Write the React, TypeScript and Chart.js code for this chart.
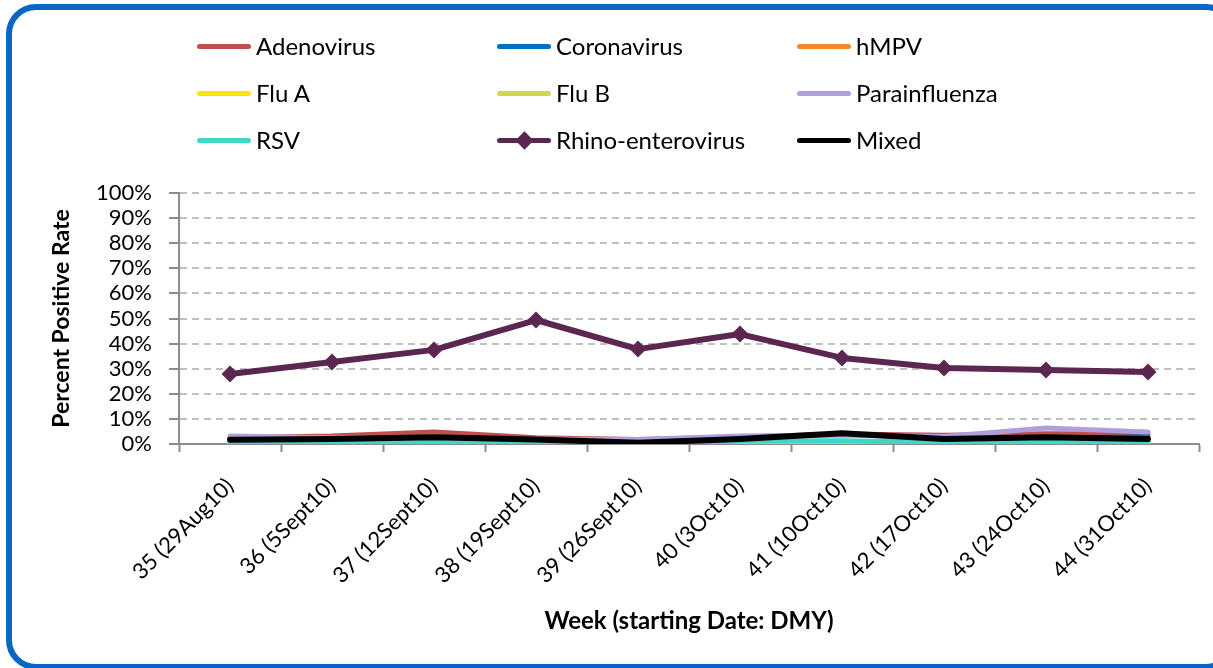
import React, { useEffect, useRef } from "react";
import { Chart, registerables } from "chart.js";

Chart.register(...registerables);

const weeks = [
  "35 (29Aug10)",
  "36 (5Sept10)",
  "37 (12Sept10)",
  "38 (19Sept10)",
  "39 (26Sept10)",
  "40 (3Oct10)",
  "41 (10Oct10)",
  "42 (17Oct10)",
  "43 (24Oct10)",
  "44 (31Oct10)",
];

const adenovirus = [2.5, 3.2, 4.8, 2.5, 1.8, 2.8, 4.0, 3.5, 4.1, 4.0];
const coronavirus = [0, 0, 0, 0, 0, 0, 0, 0, 2.0, 3.0];
const hmpv = [0.3, 0.3, 0.5, 0.5, 0, 0.5, 0.5, 0, 0.5, 1.0];
const fluA = [0, 0, 0, 0, 0, 0, 0, 0, 0, 0];
const fluB = [0, 0, 0, 0, 0, 0, 0, 0, 0, 0];
const parainfluenza = [3.2, 2.5, 2.0, 2.0, 1.8, 3.2, 3.5, 3.0, 6.4, 4.8];
const rsv = [0.2, 0.3, 0.8, 0.5, 0.3, 1.2, 1.3, 0.6, 0.6, 1.0];
const rhinoEnterovirus = [27.9, 32.7, 37.5, 49.4, 37.8, 43.8, 34.3, 30.3, 29.5, 28.7];
const mixed = [1.7, 2.0, 2.7, 1.8, 0.5, 2.0, 4.3, 2.0, 2.7, 2.0];

const seriesNames = [
  "Adenovirus",
  "Coronavirus",
  "hMPV",
  "Flu A",
  "Flu B",
  "Parainfluenza",
  "RSV",
  "Rhino-enterovirus",
  "Mixed",
];
const seriesValues = [adenovirus, coronavirus, hmpv, fluA, fluB, parainfluenza, rsv, rhinoEnterovirus, mixed];
const seriesColors = [
  "#c0504d",
  "#0070c0",
  "#f5882d",
  "#ffe500",
  "#d2d84c",
  "#b09fdc",
  "#3ed6c4",
  "#5b2751",
  "#000000",
];

const FONT = "Lato, 'Open Sans', sans-serif";

export default function App() {
  const canvasRef = useRef<HTMLCanvasElement | null>(null);

  useEffect(() => {
    document.body.style.margin = "0";
    const canvas = canvasRef.current;
    if (!canvas) return;
    const n = seriesNames.length;
    const datasets = seriesNames.map((name, i) => {
      const isRhino = name === "Rhino-enterovirus";
      const thick = isRhino || name === "Mixed";
      return {
        label: name,
        data: seriesValues[i],
        borderColor: seriesColors[i],
        backgroundColor: seriesColors[i],
        borderWidth: thick ? 6 : 5,
        borderCapStyle: "round" as const,
        borderJoinStyle: "round" as const,
        tension: 0,
        fill: false,
        pointStyle: "rectRot" as const,
        pointRadius: isRhino ? 8.5 : 0,
        pointHoverRadius: isRhino ? 8.5 : 0,
        pointBorderWidth: 0,
        order: n - i,
      };
    });

    const chart = new Chart(canvas, {
      type: "line",
      data: { labels: weeks, datasets },
      options: {
        animation: false,
        responsive: false,
        maintainAspectRatio: false,
        layout: { padding: { top: 193, left: 0, right: 14, bottom: 0 } },
        plugins: {
          legend: { display: false },
          tooltip: { enabled: false },
          title: { display: false },
        },
        scales: {
          x: {
            type: "category",
            offset: true,
            afterFit: (scale: any) => {
              scale.height = 224;
            },
            grid: {
              display: true,
              offset: true,
              drawOnChartArea: false,
              drawTicks: true,
              tickLength: 8,
              tickColor: "#8c8c8c",
              tickWidth: 2,
            },
            border: { display: true, color: "#8c8c8c", width: 2 },
            ticks: {
              autoSkip: false,
              maxRotation: 45,
              minRotation: 45,
              padding: 21,
              color: "#000",
              font: { family: FONT, size: 22 },
            },
            title: {
              display: true,
              text: "Week (starting Date: DMY)",
              color: "#000",
              font: { family: FONT, size: 24, weight: "bold" },
              padding: { top: 0, bottom: 32 },
            },
          },
          y: {
            min: 0,
            max: 100,
            afterFit: (scale: any) => {
              scale.width = 179;
            },
            grid: {
              color: "#c0c0c0",
              lineWidth: 2,
              drawTicks: true,
              tickLength: 10,
              tickColor: "#8c8c8c",
              tickWidth: 2,
              tickBorderDash: [],
            },
            border: { display: true, color: "#8c8c8c", width: 2, dash: [7, 5] },
            ticks: {
              autoSkip: false,
              stepSize: 10,
              padding: 17,
              color: "#000",
              font: { family: FONT, size: 22 },
              callback: (v: any) => `${v}%`,
            },
            title: {
              display: true,
              text: "Percent Positive Rate",
              color: "#000",
              font: { family: FONT, size: 23, weight: "bold" },
              padding: { top: 48, bottom: 0 },
            },
          },
        },
      },
    });
    return () => chart.destroy();
  }, []);

  const legendItems = seriesNames.map((name, i) => ({ name, color: seriesColors[i], idx: i }));

  return (
    <div style={{ position: "relative", width: 1213, height: 668, overflow: "hidden", background: "#fff" }}>
      <canvas ref={canvasRef} width={1213} height={668} style={{ position: "absolute", left: 0, top: 0 }} />
      <div
        style={{
          position: "absolute",
          left: 6,
          top: 4,
          width: 1230,
          height: 666,
          border: "6px solid #0867c4",
          borderRadius: 30,
          boxSizing: "border-box",
          pointerEvents: "none",
        }}
      />
      {legendItems.map((it) => {
        const col = it.idx % 3;
        const row = Math.floor(it.idx / 3);
        const left = 197 + col * 300;
        const cy = 46 + row * 47;
        const isRhino = it.name === "Rhino-enterovirus";
        return (
          <div key={it.name} style={{ position: "absolute", left, top: cy - 15, height: 30, width: 300 }}>
            <span
              style={{
                position: "absolute",
                left: 0,
                top: 12.5,
                width: 54,
                height: 5,
                borderRadius: 3,
                background: it.color,
              }}
            />
            {isRhino && (
              <span
                style={{
                  position: "absolute",
                  left: 27 - 6.5,
                  top: 15 - 6.5,
                  width: 13,
                  height: 13,
                  background: it.color,
                  transform: "rotate(45deg)",
                }}
              />
            )}
            <span
              style={{
                position: "absolute",
                left: 59,
                top: 0,
                lineHeight: "30px",
                fontFamily: FONT,
                fontSize: 24,
                color: "#000",
                whiteSpace: "nowrap",
              }}
            >
              {it.name}
            </span>
          </div>
        );
      })}
    </div>
  );
}
